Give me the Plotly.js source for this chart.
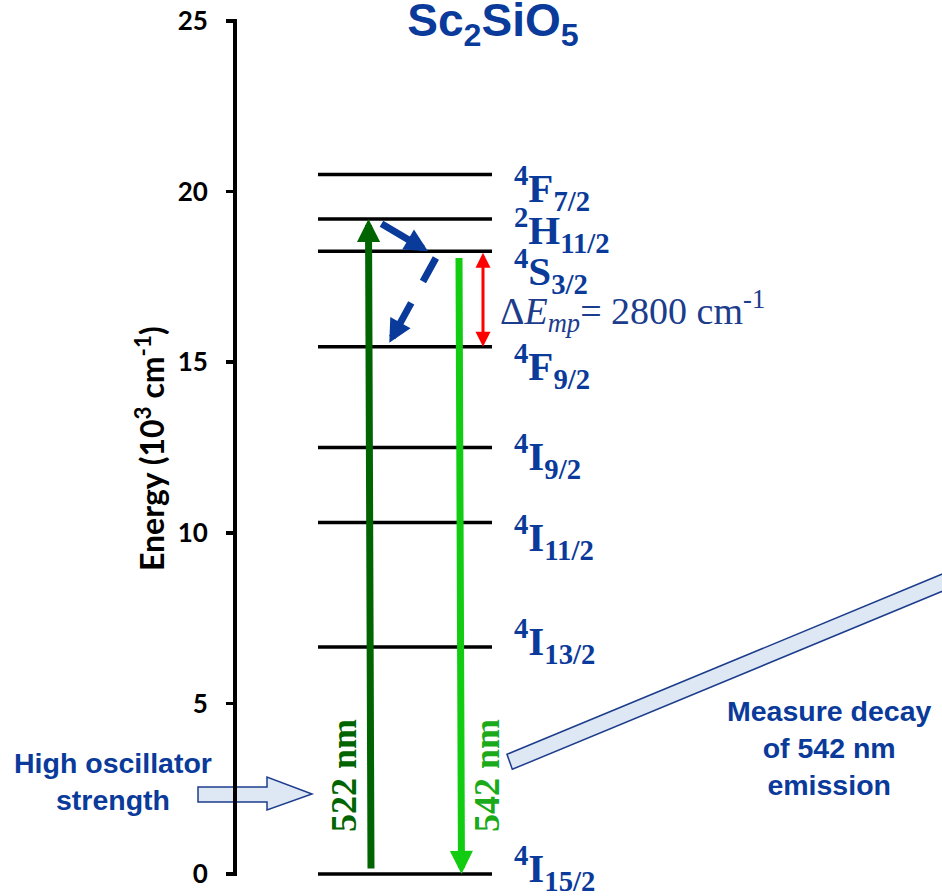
<!DOCTYPE html>
<html>
<head>
<meta charset="utf-8">
<script src="https://cdn.plot.ly/plotly-3.0.1.min.js"></script>
<style>
  html, body { margin: 0; padding: 0; background: #fff; }
  #chart { width: 942px; height: 896px; }
</style>
</head>
<body>
<div id="chart"></div>
<script>
// Er3+ energy levels in Sc2SiO5, energies in units of 10^3 cm^-1
const levelMult   = ['4', '4', '4', '4', '4', '4', '2', '4'];
const levelLetter = ['I', 'I', 'I', 'I', 'F', 'S', 'H', 'F'];
const levelJ      = ['15/2', '13/2', '11/2', '9/2', '9/2', '3/2', '11/2', '7/2'];
const levelEnergy = [0, 6.65, 10.3, 12.5, 15.45, 18.25, 19.2, 20.5];

// y axis ticks
const yTickVals = [0, 5, 10, 15, 20, 25];
const yTickText = ['0', '5', '10', '15', '20', '25'];

// transitions (wavelengths in nm) and multiphonon gap (cm^-1)
const pumpNm  = 522;   // 4I15/2 -> 2H11/2
const emitNm  = 542;   // 4S3/2 -> 4I15/2
const deltaEmp = 2800; // 4S3/2 -> 4F9/2

// ---------------- layout geometry ----------------
const W = 942, H = 896;
const TOP = 21, ZERO_PX = 874;          // page px of E = 25 and E = 0
const Y_MAX = 25;
const pxPerE = (ZERO_PX - TOP) / Y_MAX;
const Y_MIN = -(H - ZERO_PX) / pxPerE;  // plot runs to the bottom edge
const yE = py => (ZERO_PX - py) / pxPerE;   // page px -> energy
const AXIS_X = 235;

const BLUE = '#0a3a9a';
const NAVY = '#1c3c8c';
const DARK_GREEN = '#006400';
const LIGHT_GREEN = '#11cc11';

const idx = name => levelLetter.findIndex((l, i) => (levelMult[i] + l + levelJ[i]) === name);
const E_G  = levelEnergy[idx('4I15/2')];
const E_F9 = levelEnergy[idx('4F9/2')];
const E_S  = levelEnergy[idx('4S3/2')];
const E_H  = levelEnergy[idx('2H11/2')];

// level lines
const LINE_X0 = 318, LINE_X1 = 492;
const lx = [], ly = [];
levelEnergy.forEach(e => { lx.push(LINE_X0, LINE_X1, null); ly.push(e, e, null); });

const traces = [{
  x: lx, y: ly, type: 'scatter', mode: 'lines',
  line: { color: '#000', width: 3.5 },
  hoverinfo: 'skip', showlegend: false
}];

// level labels (term symbols)
const LABEL_X = 512;
const labelShift = [6, 6, -14, -8, -19, -20, -11, -13];
const annotations = levelEnergy.map((e, i) => ({
  xref: 'x', yref: 'y', x: LABEL_X, y: e, xanchor: 'left', yanchor: 'middle',
  yshift: labelShift[i], showarrow: false,
  text: '<sup>' + levelMult[i] + '</sup>' + levelLetter[i] + '<sub>' + levelJ[i] + '</sub>',
  font: { family: 'Liberation Serif', size: 41, color: BLUE, weight: 'bold' }
}));

// arrow helper (tail -> tip in data coordinates)
function arrow(x0, y0, x1, y1, color, width, head, size, extra) {
  return Object.assign({
    xref: 'x', yref: 'y', axref: 'x', ayref: 'y',
    x: x1, y: y1, ax: x0, ay: y0, text: '', showarrow: true,
    arrowcolor: color, arrowwidth: width, arrowhead: head, arrowsize: size, standoff: 0
  }, extra || {});
}

const gap = 4 / pxPerE;   // small clearance from a level line

// absorption 522 nm
annotations.push(arrow(371, E_G + gap, 368.5, E_H, DARK_GREEN, 7, 2, 0.66));
// emission 542 nm
annotations.push(arrow(459, E_S - 1.3 * gap, 461.5, E_G, LIGHT_GREEN, 7, 2, 0.66));

// non-radiative relaxation 2H11/2 -> 4S3/2 -> 4F9/2
annotations.push(arrow(380, E_H - gap, 428, E_S, BLUE, 7, 2, 0.66));
const r0 = { x: 436.7, y: E_S - 1.3 * gap }, r1 = { x: 389.3, y: E_F9 + gap };
const along = t => ({ x: r0.x + (r1.x - r0.x) * t, y: r0.y + (r1.y - r0.y) * t });
const d1 = along(0.29), d2 = along(0.52);
annotations.push(arrow(r0.x, r0.y, d1.x, d1.y, BLUE, 7, 0, 1));
annotations.push(arrow(d2.x, d2.y, r1.x, r1.y, BLUE, 7, 2, 0.66));

// multiphonon gap 4S3/2 - 4F9/2
annotations.push(arrow(483, E_S, 483, E_S - deltaEmp / 1000, '#ff0000', 3, 2, 1,
  { arrowside: 'end+start', startarrowhead: 2, startarrowsize: 1 }));

annotations.push({
  xref: 'x', yref: 'y', x: 498, y: (E_S + E_S - deltaEmp / 1000) / 2, yshift: -12,
  xanchor: 'left', yanchor: 'middle', showarrow: false,
  text: '\u0394<i>E</i><sub><i>mp</i></sub>= ' + deltaEmp + ' cm<sup>-1</sup>',
  font: { family: 'Liberation Serif', size: 38, color: NAVY }
});

// wavelength labels
annotations.push({
  xref: 'x', yref: 'y', x: 344, y: yE(776), textangle: -90, showarrow: false,
  text: pumpNm + ' nm',
  font: { family: 'Liberation Serif', size: 36, color: DARK_GREEN, weight: 'bold' }
});
annotations.push({
  xref: 'x', yref: 'y', x: 487, y: yE(776), textangle: -90, showarrow: false,
  text: emitNm + ' nm',
  font: { family: 'Liberation Serif', size: 36, color: '#1aaa1a', weight: 'bold' }
});

// energy axis title
annotations.push({
  xref: 'x', yref: 'y', x: 150, y: yE(449), textangle: -90, showarrow: false,
  text: '<b>Energy (10<sup>3</sup> cm<sup>-1</sup>)</b>',
  font: { family: 'Lato', size: 32, color: '#000', weight: 'bold' }
});

// callout texts
const calloutFont = { family: 'Liberation Sans', size: 28.5, color: BLUE, weight: 'bold' };
annotations.push({
  xref: 'x', yref: 'y', x: 113, y: yE(781), showarrow: false,
  text: 'High oscillator<br>strength', font: calloutFont
});
annotations.push({
  xref: 'x', yref: 'y', x: 829, y: yE(748), showarrow: false,
  text: 'Measure decay<br>of ' + emitNm + ' nm<br>emission', font: calloutFont
});

// callout block arrows (page-pixel outlines)
const pathOf = pts => pts.map((p, i) => (i ? 'L' : 'M') + p[0] + ',' + yE(p[1])).join(' ') + ' Z';
const shapes = [
  // energy axis spine, 0 .. 25
  {
    type: 'line', xref: 'x', yref: 'y', x0: AXIS_X, x1: AXIS_X, y0: 0, y1: Y_MAX,
    line: { color: '#000', width: 4 }
  },
  {
    type: 'path', xref: 'x', yref: 'y', layer: 'below',
    path: pathOf([[198, 787], [267, 787], [267, 777], [312, 794], [267, 810], [267, 802], [198, 802]]),
    fillcolor: '#dde8f4', line: { color: '#1c3c8c', width: 1.5 }
  },
  {
    type: 'path', xref: 'x', yref: 'y', layer: 'below',
    path: pathOf([[507, 754.3], [990, 554.3], [990, 571.5], [512.3, 769.3]]),
    fillcolor: '#dde8f4', line: { color: '#1c3c8c', width: 1.5 }
  }
];

const layout = {
  width: W, height: H,
  margin: { l: 0, r: 0, t: TOP, b: 0, pad: 0 },
  paper_bgcolor: '#fff', plot_bgcolor: 'rgba(0,0,0,0)',
  showlegend: false,
  title: {
    text: 'Sc<sub>2</sub>SiO<sub>5</sub>',
    x: 493 / W, xanchor: 'center', y: 1 - 4 / H, yanchor: 'top',
    font: { family: 'Liberation Sans', size: 46, color: BLUE, weight: 'bold' }
  },
  xaxis: { range: [0, W], visible: false, fixedrange: true },
  yaxis: {
    range: [Y_MIN, Y_MAX], anchor: 'free', position: (AXIS_X + 2) / W, side: 'left',
    tickvals: yTickVals, ticktext: yTickText.map(t => '<b>' + t + '</b>'),
    ticks: 'outside', ticklen: 11, tickwidth: 3.5, tickcolor: '#000',
    showline: false, showgrid: false, zeroline: false, fixedrange: true,
    ticklabelstandoff: 13,
    tickfont: { family: 'Lato', size: 26, color: '#000', weight: 'bold' }
  },
  annotations: annotations,
  shapes: shapes
};

Plotly.newPlot('chart', traces, layout, { displayModeBar: false, staticPlot: true });
</script>
</body>
</html>
